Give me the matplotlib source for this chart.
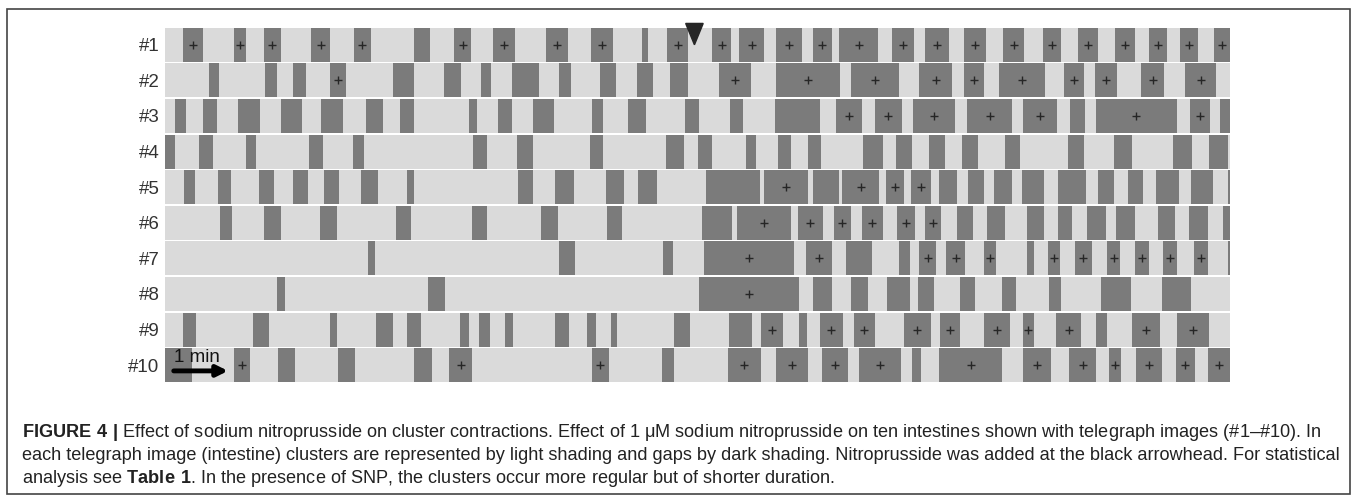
import matplotlib.pyplot as plt
from matplotlib.patches import Polygon, Rectangle

plt.rcParams["font.family"] = ["Liberation Sans", "DejaVu Sans"]
plt.rcParams["mathtext.fontset"] = "custom"
plt.rcParams["mathtext.rm"] = "Liberation Sans"
plt.rcParams["mathtext.bf"] = "Liberation Sans:bold"

# time axis in seconds, gaps as (start, end, marked with "+")
record_len = 1217
snp_time = 605
labels = ["#1", "#2", "#3", "#4", "#5", "#6", "#7", "#8", "#9", "#10"]

row1 = [(21, 43, 1), (79, 93, 1), (113, 132, 1), (167, 189, 1), (216, 235, 1),
        (284, 303, 0), (330, 350, 1), (375, 400, 1), (435, 461, 1), (487, 512, 1),
        (545, 552, 0), (574, 598, 1), (625, 647, 1), (656, 685, 1), (698, 728, 1),
        (740, 762, 1), (770, 815, 1), (831, 856, 1), (869, 896, 1), (913, 938, 1),
        (958, 982, 1), (1003, 1024, 1), (1043, 1066, 1), (1086, 1109, 1),
        (1124, 1145, 1), (1160, 1181, 1), (1199, 1217, 1)]
row2 = [(50, 62, 0), (114, 128, 0), (146, 161, 0), (188, 207, 1), (261, 284, 0),
        (319, 338, 0), (361, 373, 0), (397, 427, 0), (450, 464, 0), (497, 515, 0),
        (539, 558, 0), (577, 598, 0), (633, 670, 1), (698, 771, 1), (784, 839, 1),
        (862, 899, 1), (913, 936, 1), (953, 1006, 1), (1027, 1050, 1),
        (1063, 1088, 1), (1115, 1142, 1), (1166, 1201, 1)]
row3 = [(11, 24, 0), (43, 59, 0), (83, 109, 0), (132, 156, 0), (178, 203, 0),
        (230, 249, 0), (269, 285, 0), (347, 357, 0), (380, 396, 0), (421, 445, 0),
        (488, 500, 0), (529, 550, 0), (594, 610, 0), (646, 660, 0), (697, 748, 0),
        (767, 796, 1), (811, 842, 1), (855, 903, 1), (917, 968, 1), (981, 1019, 1),
        (1034, 1051, 0), (1064, 1156, 1), (1171, 1194, 1), (1206, 1217, 0)]
row4 = [(0, 11, 0), (39, 55, 0), (92, 104, 0), (164, 180, 0), (215, 227, 0),
        (352, 368, 0), (402, 420, 0), (486, 501, 0), (572, 593, 0), (609, 625, 0),
        (664, 675, 0), (700, 715, 0), (735, 750, 0), (798, 820, 0), (835, 854, 0),
        (873, 891, 0), (911, 929, 0), (960, 977, 0), (1032, 1050, 0),
        (1085, 1105, 0), (1152, 1174, 0), (1193, 1215, 0)]
row5 = [(22, 34, 0), (61, 75, 0), (107, 124, 0), (146, 163, 0), (182, 199, 0),
        (224, 243, 0), (276, 285, 0), (403, 421, 0), (446, 467, 0), (504, 525, 0),
        (541, 562, 0), (618, 680, 0), (685, 735, 1), (741, 770, 0), (774, 816, 1),
        (824, 845, 1), (853, 875, 1), (885, 905, 0), (918, 936, 0), (947, 968, 0),
        (979, 1005, 0), (1020, 1053, 0), (1066, 1085, 0), (1100, 1118, 0),
        (1133, 1159, 0), (1173, 1198, 0), (1215, 1217, 0)]
row6 = [(63, 77, 0), (113, 133, 0), (177, 196, 0), (264, 281, 0), (351, 368, 0),
        (430, 449, 0), (505, 522, 0), (614, 648, 0), (654, 715, 1), (723, 752, 1),
        (764, 784, 1), (796, 820, 1), (836, 857, 1), (869, 887, 1), (905, 923, 0),
        (939, 960, 0), (985, 1005, 0), (1021, 1037, 0), (1054, 1075, 0),
        (1087, 1109, 0), (1135, 1154, 0), (1170, 1192, 0), (1209, 1217, 0)]
row7 = [(232, 240, 0), (450, 469, 0), (569, 580, 0), (616, 719, 1), (733, 762, 1),
        (778, 808, 0), (839, 851, 0), (862, 881, 1), (893, 914, 1), (936, 950, 1),
        (985, 993, 0), (1009, 1023, 1), (1040, 1059, 1), (1077, 1091, 1),
        (1109, 1125, 1), (1141, 1157, 1), (1176, 1192, 1), (1215, 1217, 0)]
row8 = [(128, 137, 0), (301, 320, 0), (610, 725, 1), (741, 762, 0), (784, 803, 0),
        (825, 851, 0), (860, 879, 0), (909, 926, 0), (957, 972, 0), (1010, 1024, 0),
        (1070, 1104, 0), (1139, 1173, 0)]
row9 = [(20, 35, 0), (101, 119, 0), (189, 197, 0), (241, 260, 0), (277, 293, 0),
        (337, 347, 0), (359, 371, 0), (389, 398, 0), (446, 462, 0), (482, 492, 0),
        (510, 517, 0), (582, 600, 0), (645, 671, 0), (681, 706, 1), (725, 734, 0),
        (748, 775, 1), (787, 811, 1), (844, 875, 1), (886, 909, 1), (936, 966, 1),
        (980, 993, 1), (1018, 1047, 1), (1064, 1076, 0), (1105, 1137, 1),
        (1156, 1193, 1)]
row10 = [(0, 31, 0), (79, 97, 1), (129, 149, 0), (198, 217, 0), (284, 305, 0),
         (325, 351, 1), (488, 507, 1), (568, 582, 0), (643, 681, 1), (698, 735, 1),
         (751, 781, 1), (793, 841, 1), (854, 864, 0), (884, 957, 1), (981, 1012, 1),
         (1033, 1064, 1), (1079, 1093, 1), (1110, 1139, 1), (1155, 1177, 1),
         (1192, 1217, 1)]
rows = [row1, row2, row3, row4, row5, row6, row7, row8, row9, row10]

LIGHT = "#dadada"
DARK = "#7b7b7b"
INK = "#262626"

fig = plt.figure(figsize=(13.58, 5.0), dpi=100)
ax = fig.add_axes([165 / 1358, 1 - 383 / 500, 1065 / 1358, 356 / 500])

for i, gaps in enumerate(rows):
    y = i + 0.5
    ax.barh(y, record_len, left=0, height=0.955, color=LIGHT)
    ax.barh([y] * len(gaps), [g[1] - g[0] for g in gaps],
            left=[g[0] for g in gaps], height=0.955, color=DARK)
    xs = [(g[0] + g[1]) / 2 for g in gaps if g[2]]
    ax.plot(xs, [y] * len(xs), ls="none", marker="+", ms=6, mew=1, color=INK)

ax.set_xlim(0, record_len)
ax.set_ylim(10, 0)
ax.set_yticks([i + 0.5 for i in range(10)], labels)
ax.set_xticks([])
ax.tick_params(length=0, labelsize=13.5, pad=4, labelcolor="#333333")
for s in ax.spines.values():
    s.set_visible(False)

# SNP added here
ax.add_patch(Polygon([(snp_time - 10, -0.1), (snp_time + 10, -0.1), (snp_time, 0.5)],
                     closed=True, color=INK, clip_on=False, zorder=5))

# scale bar
ax.annotate("", xy=(72, 9.66), xytext=(10, 9.66),
            arrowprops=dict(arrowstyle="-|>", lw=3.5, color="black",
                            mutation_scale=16, shrinkA=0, shrinkB=0))
ax.text(10, 9.41, "1 min", fontsize=13.5, ha="left", va="baseline", color="#111111")

# caption
cap = [
    r"$\mathbf{FIGURE\ 4\ |}$ Effect of sodium nitroprusside on cluster contractions. "
    r"Effect of 1 μM sodium nitroprusside on ten intestines shown with telegraph images (#1–#10). In",
    "each telegraph image (intestine) clusters are represented by light shading and gaps by "
    "dark shading. Nitroprusside was added at the black arrowhead. For statistical",
    r"analysis see $\mathbf{Table\ 1}$. In the presence of SNP, the clusters occur more "
    "regular but of shorter duration.",
]
for k, line in enumerate(cap):
    fig.text(22 / 1358, 1 - (437 + 23 * k) / 500, line, fontsize=13.1,
             ha="left", va="baseline", color="#222222")

fig.add_artist(Rectangle((7 / 1358, 1 - 494 / 500), 1343 / 1358, 485 / 500,
                         transform=fig.transFigure, fill=False,
                         edgecolor="#444444", lw=1.2))

fig.savefig("out.png", dpi=100)
